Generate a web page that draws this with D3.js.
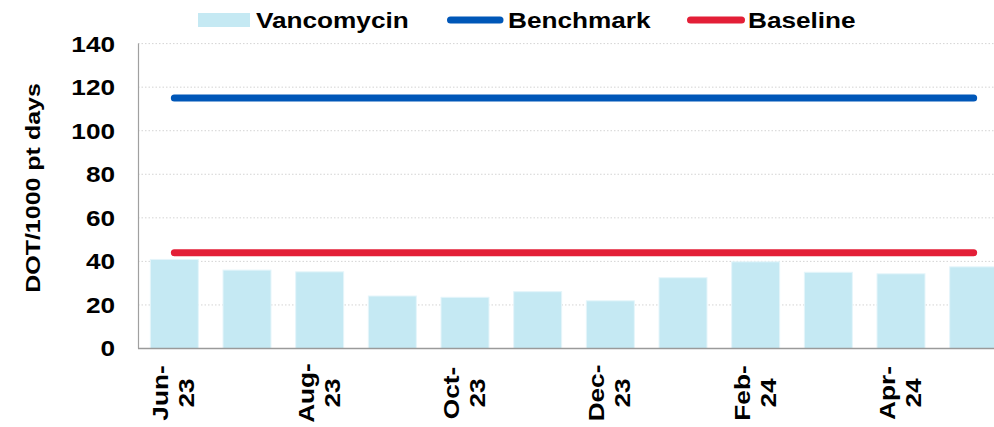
<!DOCTYPE html>
<html lang="en">
<head>
    <meta charset="UTF-8">
    <title>Vancomycin DOT/1000 pt days</title>
    <style>
        body { margin: 0; background: #fff; }
        svg { display: block; }
        text { font-family: "Liberation Sans", Arial, sans-serif; font-weight: bold; fill: #000; }
    </style>
</head>
<body>
<svg width="994" height="427"></svg>

<script src="https://d3js.org/d3.v7.min.js"></script>
<script>
    // data
    const months = ["Jun-23", "Jul-23", "Aug-23", "Sep-23", "Oct-23", "Nov-23",
                    "Dec-23", "Jan-24", "Feb-24", "Mar-24", "Apr-24", "May-24"];
    const vancomycin = [40.9, 36.0, 35.2, 24.1, 23.5, 26.1, 21.9, 32.5, 39.8, 35.0, 34.3, 37.5];
    const benchmark = [115, 115, 115, 115, 115, 115, 115, 115, 115, 115, 115, 115];
    const baseline = [44, 44, 44, 44, 44, 44, 44, 44, 44, 44, 44, 44];
    const yTicks = [0, 20, 40, 60, 80, 100, 120, 140];
    const shownMonths = ["Jun-23", "Aug-23", "Oct-23", "Dec-23", "Feb-24", "Apr-24"];

    const barColor = "#c5e9f3",
        blue = "#0057b8",
        red = "#e31f37",
        stretch = 1.19; // the source font runs wider than Arial

    const svg = d3.select("svg");

    const x = d3.scaleBand().domain(months).range([138, 1010])
        .paddingInner(0.34).paddingOuter(0.17);
    const y = d3.scaleLinear().domain([0, 140]).range([348.5, 43.6]);

    // gridlines
    svg.append("g").selectAll("line")
        .data(yTicks.filter(d => d > 0))
        .join("line")
        .attr("x1", 138).attr("x2", 994)
        .attr("y1", d => y(d)).attr("y2", d => y(d))
        .attr("stroke", "#d4d4d4")
        .attr("stroke-dasharray", "1.5,2");

    // bars
    svg.append("g").selectAll("rect")
        .data(vancomycin)
        .join("rect")
        .attr("x", (d, i) => x(months[i]))
        .attr("width", x.bandwidth())
        .attr("y", d => y(d))
        .attr("height", d => y(0) - y(d))
        .attr("fill", barColor)
        .attr("stroke", "#e4f5fa")
        .attr("stroke-width", 1);

    // axes lines
    svg.append("line")
        .attr("x1", 138.5).attr("x2", 138.5)
        .attr("y1", y(140)).attr("y2", y(0))
        .attr("stroke", "#a0a0a0").attr("stroke-width", 1.2);
    svg.append("line")
        .attr("x1", 138).attr("x2", 994)
        .attr("y1", y(0)).attr("y2", y(0))
        .attr("stroke", "#9a9a9a").attr("stroke-width", 1.6);

    // benchmark + baseline lines
    const line = d3.line()
        .x((d, i) => x(months[i]) + x.bandwidth() / 2)
        .y(d => y(d));

    [[benchmark, blue], [baseline, red]].forEach(([vals, col]) => {
        svg.append("path")
            .datum(vals)
            .attr("d", line)
            .attr("fill", "none")
            .attr("stroke", col)
            .attr("stroke-width", 7)
            .attr("stroke-linecap", "round");
    });

    // y tick labels
    svg.append("g").selectAll("text")
        .data(yTicks)
        .join("text")
        .attr("transform", d => `translate(115,${y(d)}) scale(${stretch},1)`)
        .attr("text-anchor", "end")
        .attr("dy", "0.36em")
        .style("font-size", "22px")
        .text(d => d);

    // y title
    svg.append("text")
        .attr("transform", `translate(40,188) rotate(-90) scale(${stretch},1)`)
        .attr("text-anchor", "middle")
        .style("font-size", "21px")
        .text("DOT/1000 pt days");

    // x labels, two lines, rotated
    const xl = svg.append("g").selectAll("text")
        .data(shownMonths)
        .join("text")
        .attr("transform", d => `translate(${x(d) + x.bandwidth() / 2},393) rotate(-90) scale(${stretch},1)`)
        .attr("text-anchor", "middle")
        .style("font-size", "22px");
    xl.append("tspan").attr("x", 0).attr("y", -6).text(d => d.split("-")[0] + "-");
    xl.append("tspan").attr("x", 0).attr("y", 20).text(d => d.split("-")[1]);

    // legend
    const legend = svg.append("g");
    legend.append("rect")
        .attr("x", 198).attr("y", 13).attr("width", 52).attr("height", 14)
        .attr("fill", barColor);
    legend.append("text")
        .attr("transform", `translate(256,28) scale(${stretch},1)`)
        .style("font-size", "22px")
        .text("Vancomycin");

    const lineItems = [
        {name: "Benchmark", color: blue, x0: 450.5, x1: 500, tx: 508},
        {name: "Baseline", color: red, x0: 690.5, x1: 741.5, tx: 748}
    ];
    lineItems.forEach(it => {
        legend.append("line")
            .attr("x1", it.x0).attr("x2", it.x1)
            .attr("y1", 20).attr("y2", 20)
            .attr("stroke", it.color)
            .attr("stroke-width", 7)
            .attr("stroke-linecap", "round");
        legend.append("text")
            .attr("transform", `translate(${it.tx},28) scale(${stretch},1)`)
            .style("font-size", "22px")
            .text(it.name);
    });
</script>
</body>
</html>
